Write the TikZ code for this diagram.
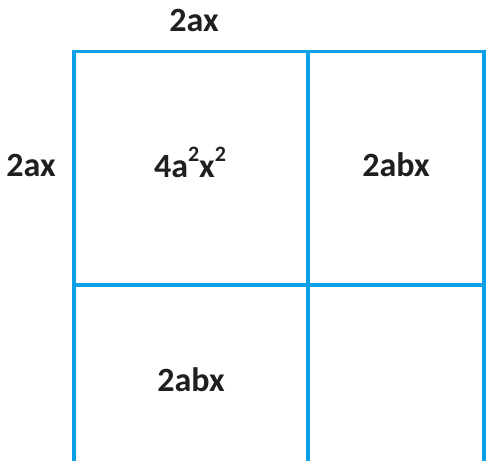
\documentclass[tikz,border=0pt]{standalone}
\usepackage{fontspec}
\setmainfont{Carlito}
\usetikzlibrary{positioning}

\definecolor{gridblue}{RGB}{14,160,230}

\newcommand{\sqr}{\raisebox{0.95ex}{\fontsize{22}{24}\selectfont 2}}

\begin{document}
\begin{tikzpicture}[
  x=1pt, y=-1pt,
  font=\fontsize{34}{36}\selectfont\bfseries,
  grid/.style={draw=gridblue, line width=3.2pt},
  term/.style={text=black!88, inner sep=0pt}
]
\useasboundingbox (0,0) rectangle (486,460);

% Square split into four parts
\draw[grid] (74,51.5) rectangle (484,476);
\draw[grid] (308,51.5) -- (308,476);
\draw[grid] (74,285) -- (484,285);

% Side lengths
\node[term] (top) at (194,20) {2ax};
\node[term] (left) at (31,165) {2ax};

% Areas
\node[term, anchor=base] (sq) at (190,177) {4a\sqr x\sqr};
\node[term] (ra) at (396,165) {2abx};
\node[term] (ba) at (191,380) {2abx};

\end{tikzpicture}
\end{document}
